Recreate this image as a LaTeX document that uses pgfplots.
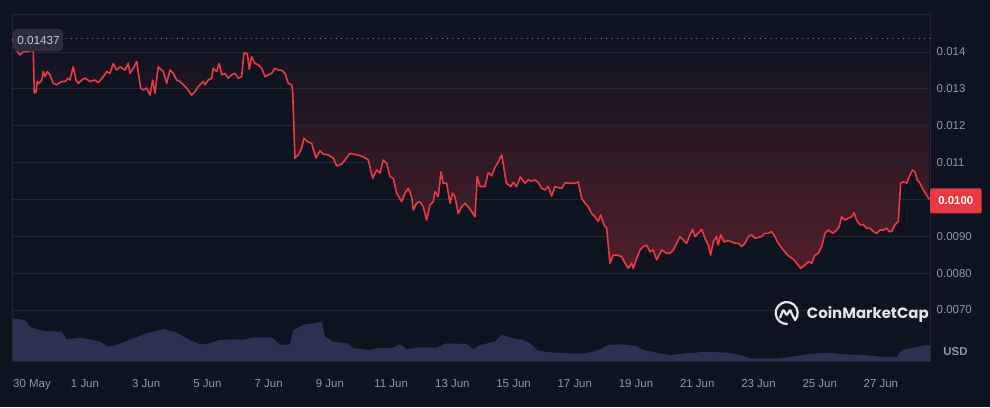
\documentclass[border=0pt]{standalone}
\usepackage{fontspec}
\setmainfont{Liberation Sans}
\newfontfamily\logofont{Poppins}
\usepackage{pgfplots}
\usepackage{pgfplotstable}
\pgfplotsset{compat=1.18}

\definecolor{bg}{HTML}{0E1320}
\definecolor{gridc}{HTML}{232734}
\definecolor{tickc}{HTML}{9096A5}
\definecolor{redc}{HTML}{EA3943}
\definecolor{volc}{HTML}{2C3152}
\definecolor{fillc}{HTML}{521E2B}
\definecolor{boxc}{HTML}{2A2F3B}
\definecolor{boxtext}{HTML}{C2C6CF}
\definecolor{dotc}{HTML}{8A909E}
\definecolor{logoc}{HTML}{E3E5EA}

% day (0 = 1 Jun 00:00), price in USD
\pgfplotstableread[row sep=\\]{
d p\\
-2.362 0.01437\\ -2.286 0.01411\\ -2.123 0.01392\\ -2.015 0.01401\\ -1.904 0.01401\\ -1.741 0.01404\\ -1.689 0.01405\\ -1.656 0.01289\\
-1.601 0.01292\\ -1.558 0.01319\\ -1.493 0.01315\\ -1.414 0.01324\\ -1.362 0.01347\\ -1.307 0.01333\\ -1.231 0.01347\\ -1.143 0.01338\\
-1.035 0.01315\\ -0.924 0.01311\\ -0.761 0.01320\\ -0.653 0.01320\\ -0.545 0.01329\\ -0.490 0.01324\\ -0.382 0.01360\\ -0.294 0.01324\\
-0.219 0.01315\\ -0.108 0.01324\\ 0 0.01329\\ 0.163 0.01320\\ 0.327 0.01324\\ 0.434 0.01317\\ 0.598 0.01333\\ 0.709 0.01347\\
0.817 0.01342\\ 0.924 0.01369\\ 1.035 0.01351\\ 1.143 0.01360\\ 1.307 0.01351\\ 1.414 0.01369\\ 1.470 0.01342\\ 1.578 0.01356\\
1.689 0.01374\\ 1.819 0.01302\\ 1.904 0.01297\\ 2.015 0.01302\\ 2.123 0.01283\\ 2.211 0.01324\\ 2.286 0.01288\\ 2.394 0.01360\\
2.505 0.01351\\ 2.558 0.01347\\ 2.669 0.01315\\ 2.776 0.01351\\ 2.884 0.01342\\ 2.995 0.01324\\ 3.103 0.01320\\ 3.211 0.01311\\
3.322 0.01302\\ 3.485 0.01283\\ 3.593 0.01292\\ 3.701 0.01306\\ 3.864 0.01320\\ 3.920 0.01311\\ 4.027 0.01324\\ 4.139 0.01329\\
4.191 0.01356\\ 4.302 0.01347\\ 4.387 0.01369\\ 4.465 0.01338\\ 4.573 0.01342\\ 4.681 0.01329\\ 4.792 0.01338\\ 4.900 0.01342\\
5.007 0.01329\\ 5.118 0.01333\\ 5.194 0.01398\\ 5.301 0.01395\\ 5.367 0.01353\\ 5.445 0.01387\\ 5.553 0.01369\\ 5.661 0.01365\\
5.772 0.01356\\ 5.880 0.01333\\ 5.987 0.01338\\ 6.098 0.01342\\ 6.206 0.01356\\ 6.314 0.01351\\ 6.425 0.01351\\ 6.533 0.01342\\
6.641 0.01315\\ 6.752 0.01311\\ 6.784 0.01292\\ 6.859 0.01112\\ 6.967 0.01121\\ 7.078 0.01139\\ 7.153 0.01166\\ 7.261 0.01157\\
7.405 0.01152\\ 7.545 0.01112\\ 7.676 0.01132\\ 7.784 0.01123\\ 7.947 0.01121\\ 8.111 0.01112\\ 8.222 0.01091\\ 8.385 0.01096\\
8.493 0.01107\\ 8.656 0.01125\\ 8.875 0.01121\\ 9.090 0.01116\\ 9.254 0.01107\\ 9.397 0.01057\\ 9.528 0.01080\\ 9.636 0.01071\\
9.744 0.01107\\ 9.855 0.01098\\ 9.963 0.01062\\ 10.070 0.01057\\ 10.181 0.01017\\ 10.345 0.00994\\ 10.452 0.01017\\ 10.560 0.01030\\
10.671 0.01007\\ 10.724 0.00971\\ 10.835 0.00990\\ 10.942 0.00994\\ 11.050 0.00980\\ 11.161 0.00944\\ 11.269 0.00985\\ 11.377 0.00994\\
11.432 0.01021\\ 11.540 0.01007\\ 11.628 0.01075\\ 11.704 0.01044\\ 11.815 0.01044\\ 11.922 0.00990\\ 12.011 0.01017\\ 12.086 0.01007\\
12.194 0.00962\\ 12.305 0.00980\\ 12.412 0.00990\\ 12.520 0.00980\\ 12.631 0.00967\\ 12.739 0.00953\\ 12.814 0.01062\\ 12.902 0.01035\\
13.066 0.01035\\ 13.173 0.01073\\ 13.284 0.01064\\ 13.392 0.01087\\ 13.500 0.01102\\ 13.611 0.01121\\ 13.664 0.01096\\ 13.762 0.01044\\
13.909 0.01035\\ 13.990 0.01046\\ 14.101 0.01035\\ 14.219 0.01061\\ 14.372 0.01044\\ 14.480 0.01053\\ 14.591 0.01050\\ 14.699 0.01053\\
14.807 0.01046\\ 14.918 0.01030\\ 15.025 0.01026\\ 15.133 0.01035\\ 15.244 0.01009\\ 15.352 0.01035\\ 15.460 0.01032\\ 15.571 0.01030\\
15.679 0.01045\\ 15.842 0.01044\\ 16.005 0.01044\\ 16.113 0.01048\\ 16.224 0.01003\\ 16.332 0.00990\\ 16.440 0.00980\\ 16.551 0.00962\\
16.659 0.00953\\ 16.766 0.00940\\ 16.845 0.00958\\ 16.953 0.00931\\ 17.041 0.00922\\ 17.149 0.00827\\ 17.257 0.00849\\ 17.368 0.00849\\
17.531 0.00845\\ 17.639 0.00827\\ 17.746 0.00813\\ 17.857 0.00827\\ 17.910 0.00813\\ 18.021 0.00840\\ 18.129 0.00863\\ 18.237 0.00872\\
18.348 0.00876\\ 18.455 0.00858\\ 18.563 0.00863\\ 18.674 0.00836\\ 18.838 0.00863\\ 19.001 0.00854\\ 19.109 0.00854\\ 19.216 0.00863\\
19.327 0.00881\\ 19.435 0.00899\\ 19.543 0.00890\\ 19.654 0.00881\\ 19.762 0.00904\\ 19.850 0.00919\\ 19.925 0.00899\\ 20.033 0.00908\\
20.144 0.00919\\ 20.252 0.00895\\ 20.359 0.00876\\ 20.438 0.00849\\ 20.523 0.00885\\ 20.634 0.00899\\ 20.686 0.00876\\ 20.765 0.00904\\
20.872 0.00885\\ 21.013 0.00888\\ 21.124 0.00885\\ 21.232 0.00881\\ 21.339 0.00881\\ 21.450 0.00872\\ 21.558 0.00881\\ 21.666 0.00899\\
21.777 0.00904\\ 21.885 0.00895\\ 21.993 0.00897\\ 22.104 0.00899\\ 22.212 0.00908\\ 22.319 0.00908\\ 22.430 0.00913\\ 22.538 0.00899\\
22.646 0.00881\\ 22.809 0.00863\\ 22.973 0.00847\\ 23.136 0.00838\\ 23.299 0.00822\\ 23.378 0.00813\\ 23.518 0.00822\\ 23.626 0.00831\\
23.737 0.00827\\ 23.845 0.00849\\ 23.953 0.00854\\ 24.064 0.00872\\ 24.171 0.00908\\ 24.279 0.00917\\ 24.442 0.00908\\ 24.553 0.00917\\
24.638 0.00926\\ 24.717 0.00953\\ 24.825 0.00944\\ 24.933 0.00949\\ 25.044 0.00953\\ 25.119 0.00964\\ 25.207 0.00944\\ 25.315 0.00931\\
25.423 0.00931\\ 25.533 0.00922\\ 25.641 0.00922\\ 25.749 0.00913\\ 25.860 0.00908\\ 25.968 0.00917\\ 26.076 0.00917\\ 26.187 0.00922\\
26.272 0.00913\\ 26.350 0.00913\\ 26.458 0.00931\\ 26.566 0.00940\\ 26.645 0.01044\\ 26.729 0.01048\\ 26.840 0.01044\\ 26.925 0.01062\\
27.036 0.01080\\ 27.111 0.01075\\ 27.186 0.01053\\ 27.274 0.01044\\ 27.382 0.01026\\ 27.493 0.01012\\ 27.578 0.01000\\
}\price

% volume, relative heights
\pgfplotstableread[row sep=\\]{
d v\\
-2.384 42.7\\ -1.960 41\\ -1.797 34.3\\ -1.578 31.7\\ -1.307 30\\ -0.761 29.3\\ -0.598 21.7\\ -0.163 23.3\\
0.271 21\\ 0.490 19.3\\ 0.761 14.3\\ 1.035 16\\ 1.578 22.7\\ 2.015 27.7\\ 2.558 32\\ 2.995 28.3\\
3.430 21\\ 3.756 16.7\\ 4.083 17.7\\ 4.410 21\\ 4.844 21.7\\ 5.171 21\\ 5.497 23.7\\ 6.098 23.7\\
6.369 16\\ 6.696 16.7\\ 6.804 31\\ 7.131 36\\ 7.568 38.3\\ 7.732 39.3\\ 7.839 24.3\\ 8.111 19.3\\
8.548 17.7\\ 8.764 12.7\\ 9.309 11\\ 9.528 12.7\\ 10.070 13.3\\ 10.289 16.7\\ 10.508 11.7\\ 10.942 13.7\\
11.488 13.3\\ 11.815 17.7\\ 12.468 17\\ 12.684 11.7\\ 12.902 16\\ 13.392 19.3\\ 13.611 26\\ 13.990 22.7\\
14.317 21\\ 14.536 17.7\\ 14.807 10.3\\ 15.297 8.3\\ 15.842 7.7\\ 16.388 7.7\\ 16.766 11\\ 17.093 16\\
17.475 16.7\\ 18.021 15\\ 18.237 11\\ 18.674 8.3\\ 19.109 6\\ 19.654 7.7\\ 20.307 9.3\\ 20.961 8.3\\
21.395 6\\ 21.722 2.7\\ 22.702 2.7\\ 23.247 5\\ 23.682 7\\ 24.227 8.3\\ 24.662 7\\ 25.423 6\\
25.968 4.3\\ 26.514 3.7\\ 26.677 11\\ 27.056 13.3\\ 27.493 16\\ 27.62 16\\
}\volume

\pgfplotsset{
  cmcframe/.style={at={(12bp,46bp)}, anchor=south west, scale only axis,
    width=918.5bp, height=347bp, xmin=-2.384, xmax=27.62},
}

\begin{document}
\begin{tikzpicture}[x=1bp,y=1bp]
\path[use as bounding box, fill=bg] (0,0) rectangle (990,407);

% volume on its own scale
\begin{axis}[cmcframe, hide axis, ymin=0, ymax=347]
\addplot[draw=none, fill=volc] table[x=d, y=v] {\volume} \closedcycle;
\end{axis}

% price: shaded area between baseline and price, grid and ticks
\begin{axis}[cmcframe, ymin=0.005617, ymax=0.015031,
  axis on top,
  axis line style={draw=gridc, line width=0.8bp},
  tick style={draw=none},
  ymajorgrids, major grid style={draw=gridc, line width=0.8bp},
  ytick={0.007,0.008,0.009,0.010,0.011,0.012,0.013,0.014},
  yticklabels={0.0070,0.0080,0.0090,,0.011,0.012,0.013,0.014},
  scaled y ticks=false,
  yticklabel pos=right,
  yticklabel style={anchor=west, inner sep=0pt, xshift=6bp},
  xtick={-1.731,0,2,4,6,8,10,12,14,16,18,20,22,24,26},
  xticklabels={30 May,1 Jun,3 Jun,5 Jun,7 Jun,9 Jun,11 Jun,13 Jun,15 Jun,17 Jun,19 Jun,21 Jun,23 Jun,25 Jun,27 Jun},
  ticklabel style={font=\fontsize{11.5}{13}\selectfont, text=tickc},
  xticklabel style={anchor=base, inner sep=0pt, yshift=-26.5bp},
]
\addplot[draw=none, top color=bg, bottom color=fillc] table[x=d, y=p] {\price}
  -- (axis cs:27.578,0.01437) -- (axis cs:-2.362,0.01437) -- cycle;
\end{axis}

% price line and opening-price baseline
\begin{axis}[cmcframe, hide axis, ymin=0.005617, ymax=0.015031]
\addplot[draw=dotc, line width=1.2bp, line cap=round, dash pattern=on 0bp off 5.3bp] coordinates {(-0.62,0.01437) (27.62,0.01437)};
\addplot[draw=redc, line width=1.6bp, line join=round] table[x=d, y=p] {\price};
\end{axis}

% labels on the chart
\fill[boxc, rounded corners=4bp] (13,356) rectangle (63,378);
\node[text=boxtext, font=\fontsize{11.8}{13}\selectfont] at (38.5,367) {0.01437};
\fill[redc, rounded corners=2bp] (930,193.7) rectangle (981.7,218.7);
\node[text=white, font=\bfseries\fontsize{11.5}{13}\selectfont] at (955.8,206.2) {0.0100};
\node[text=tickc, font=\bfseries\fontsize{11.5}{13}\selectfont] at (955.5,55.5) {USD};

% logo
\begin{scope}[shift={(786.7,94)}, draw=logoc, line width=2.2bp, line cap=round, line join=round]
\draw (-40:11) arc[start angle=-40, end angle=272, radius=11];
\draw[rounded corners=1.2bp] (-6.5,-4.5) -- (-3.4,3.6) -- (0,-2.6) -- (3.4,3.6) -- (5.2,-1.2) -- (8.4,-7);
\end{scope}
\node[anchor=base west, text=logoc, font=\logofont\bfseries\fontsize{15}{17}\selectfont, inner sep=0pt] at (806.7,89) {CoinMarketCap};
\end{tikzpicture}
\end{document}
